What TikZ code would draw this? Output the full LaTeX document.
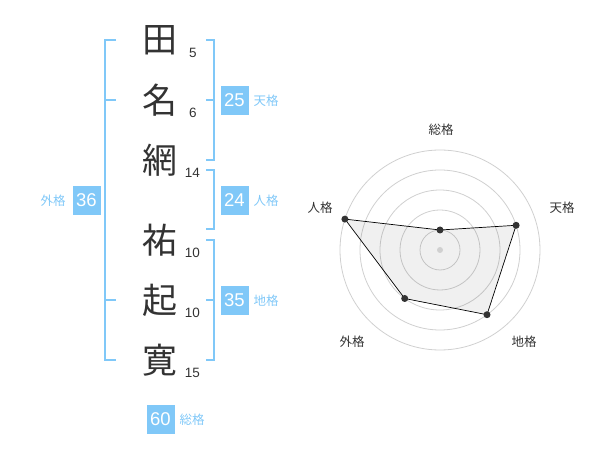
\documentclass[tikz,border=0pt]{standalone}
\usepackage{fontspec}
\setmainfont{Liberation Sans}
\newfontfamily\jp{Noto Sans CJK JP}
\definecolor{bl}{HTML}{80C8F8}
\definecolor{dk}{HTML}{333333}
\definecolor{ring}{HTML}{D0D0D0}
\begin{document}
\begin{tikzpicture}[x=1pt,y=-1pt,
  kanji/.style={font=\jp\fontsize{35}{35}\selectfont, text=dk, inner sep=0},
  strokes/.style={font=\fontsize{13.5}{14}\selectfont, text=dk, inner sep=0},
  numbox/.style={fill=bl, text=white, font=\fontsize{18.5}{19}\selectfont, minimum width=28pt, minimum height=29pt, inner sep=0},
  kaku/.style={font=\jp\fontsize{12.5}{13}\selectfont, text=bl, inner sep=0},
  brk/.style={draw=bl, line width=2pt},
  axlabel/.style={font=\jp\fontsize{12.5}{13}\selectfont, text=dk, inner sep=0},
  ringline/.style={draw=ring, line width=0.8pt},
  dot/.style={circle, fill=dk, inner sep=0, minimum size=7pt},
  cdot/.style={circle, fill=ring, inner sep=0, minimum size=6pt},
  poly/.style={draw=black, line width=0.7pt, fill=black, fill opacity=0.06}]
\useasboundingbox (0,0) rectangle (600,470);
% name characters
\node[kanji] (k1) at (160,40) {田};
\node[kanji] (k2) at (160,100) {名};
\node[kanji] (k3) at (160,160) {網};
\node[kanji] (k4) at (160,240) {祐};
\node[kanji] (k5) at (160,300) {起};
\node[kanji] (k6) at (160,360) {寛};
\node[strokes] (s1) at (193,53) {5};
\node[strokes] (s2) at (193,113) {6};
\node[strokes] (s3) at (192.5,173) {14};
\node[strokes] (s4) at (192.5,253) {10};
\node[strokes] (s5) at (192.5,313) {10};
\node[strokes] (s6) at (192.5,373) {15};
% brackets
\coordinate (gL1) at (116,40); \coordinate (gL2) at (116,360);
\draw[brk] (gL1) -- (105,40) -- (105,360) -- (gL2);
\draw[brk] (105,100) -- (116,100);
\draw[brk] (105,300) -- (116,300);
\draw[brk] (206,40) -- (214,40) -- (214,160) -- (206,160);
\draw[brk] (206,100) -- (214,100);
\draw[brk] (206,170) -- (214,170) -- (214,229) -- (206,229);
\draw[brk] (206,240) -- (214,240) -- (214,360) -- (206,360);
\draw[brk] (206,300) -- (214,300);
% boxes and labels
\node[numbox] (b25) at (234.5,100.5) {25};
\node[kaku] (l25) at (266,101) {天格};
\node[numbox] (b24) at (234.5,200.5) {24};
\node[kaku] (l24) at (266,201) {人格};
\node[numbox] (b35) at (234.5,300.5) {35};
\node[kaku] (l35) at (266,301) {地格};
\node[numbox] (b36) at (86.5,200.5) {36};
\node[kaku] (l36) at (53,201) {外格};
\node[numbox] (b60) at (160.5,419) {60};
\node[kaku] (l60) at (192,420) {総格};
% radar
\coordinate (C) at (440,250);
\foreach \r in {20,40,60,80,100} \draw[ringline] (C) circle[radius=\r];
\coordinate (pS) at (440,230);
\coordinate (pT) at (516.1,225.3);
\coordinate (pC) at (487.0,314.7);
\coordinate (pG) at (404.7,298.5);
\coordinate (pJ) at (344.9,219.1);
\draw[poly] (pS) -- (pT) -- (pC) -- (pG) -- (pJ) -- cycle;
\node[cdot] (c0) at (C) {};
\foreach \p in {pS,pT,pC,pG,pJ} \node[dot] at (\p) {};
\node[axlabel] (aS) at (441,130) {総格};
\node[axlabel] (aT) at (562,208) {天格};
\node[axlabel] (aC) at (524,342) {地格};
\node[axlabel] (aG) at (352,342) {外格};
\node[axlabel] (aJ) at (320,208) {人格};
\end{tikzpicture}
\end{document}
